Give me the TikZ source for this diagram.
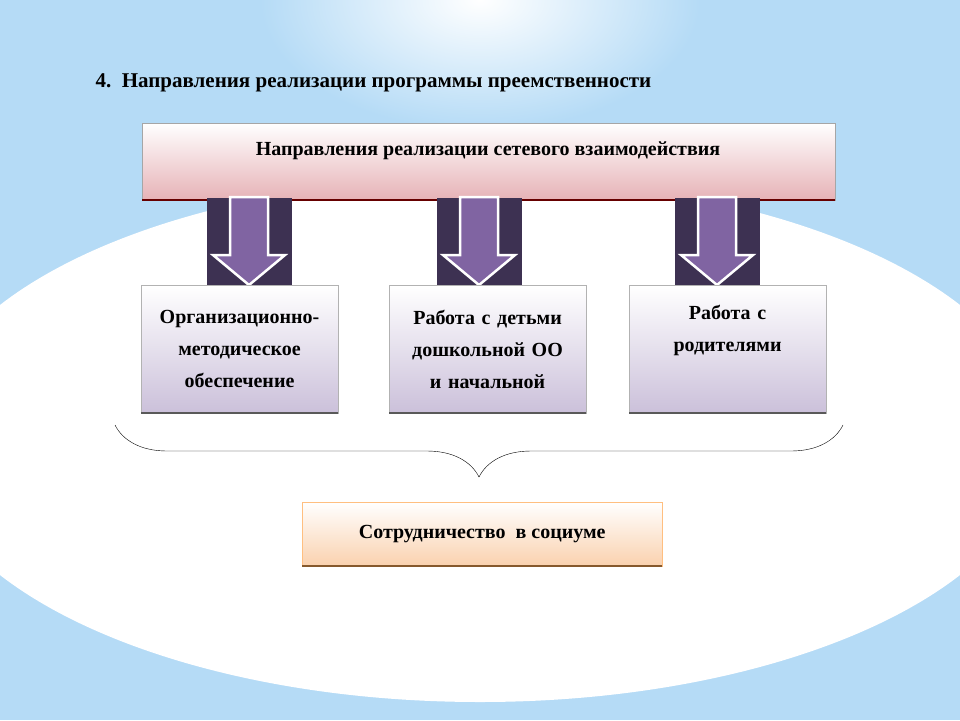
\documentclass[tikz,border=0pt]{standalone}
\usepackage{fontspec}
\setmainfont{Liberation Serif}
\usetikzlibrary{positioning,calc,decorations.pathreplacing}
\definecolor{skyblue}{HTML}{B5DBF6}
\definecolor{pinkbox}{HTML}{E6B2B6}
\definecolor{lilac}{HTML}{CBC0DA}
\definecolor{peach}{HTML}{FAD1AE}
\definecolor{plum}{HTML}{3D3152}
\definecolor{violet}{HTML}{8064A2}
\tikzset{
  topbox/.style={draw=gray!70, top color=white, bottom color=pinkbox, minimum width=693pt, minimum height=77pt},
  midbox/.style={draw=gray!60, top color=white, bottom color=lilac, minimum width=195pt, minimum height=128pt, text width=190pt, align=center, font=\fontsize{20}{32}\selectfont\bfseries},
  lowbox/.style={draw=orange!50, top color=white, bottom color=peach, minimum width=360pt, minimum height=64pt, font=\fontsize{20}{22}\selectfont\bfseries},
  darksq/.style={fill=plum, minimum width=85pt, minimum height=93pt, inner sep=0pt},
  downarrow/.style={fill=violet, draw=white, line width=2.5pt, line join=miter}
}
\begin{document}
\begin{tikzpicture}[x=1pt,y=-1pt]
  % background
  \useasboundingbox (0,0) rectangle (960,720);
  \fill[skyblue] (0,0) rectangle (960,720);
  \shade[inner color=white, outer color=skyblue] (480,0) ellipse [x radius=220, y radius=130];
  \fill[white] (480,440) ellipse [x radius=560, y radius=262];
  % title
  \node[anchor=west, font=\fontsize{21}{24}\selectfont\bfseries] (title) at (92,83) {4.\ \ Направления реализации программы преемственности};
  % top box
  \node[topbox, anchor=north west] (net) at (142,123) {};
  \node[font=\fontsize{20}{22}\selectfont\bfseries] (nettext) at (488,151) {Направления реализации сетевого взаимодействия};
  \draw[line width=2pt, red!40!black] (net.south west) -- (net.south east);
  % squares and arrows
  \foreach \name/\x in {a/249, b/479, c/717}{
    \node[darksq] (sq\name) at (\x,244) {};
    \draw[downarrow] (\x-19,197) -- (\x+19,197) -- (\x+19,255) -- (\x+36,255)
      -- (\x,285) -- (\x-36,255) -- (\x-19,255) -- cycle;
  }
  % boxes
  \node[midbox, anchor=north west] (org) at (141,285) {Организационно-\\методическое\\обеспечение};
  \node[midbox, anchor=north west] (kids) at (389,285) {Работа с детьми\\дошкольной ОО\\и начальной};
  \node[midbox, anchor=north west] (par) at (629,285) {Работа с\\родителями\\\strut};
  \foreach \n in {org,kids,par}
    \draw[line width=2pt, gray!70!black] (\n.south west) -- (\n.south east);
  % brace
  \coordinate (bl) at (115,425);
  \coordinate (br) at (843,425);
  \draw[decorate, decoration={brace, amplitude=52pt, aspect=0.5, mirror}] (bl) -- (br);
  % bottom box
  \node[lowbox, anchor=north west] (soc) at (302,502) {Сотрудничество\ \ в социуме};
  \draw[line width=2pt, brown!70!black] (soc.south west) -- (soc.south east);
\end{tikzpicture}
\end{document}
